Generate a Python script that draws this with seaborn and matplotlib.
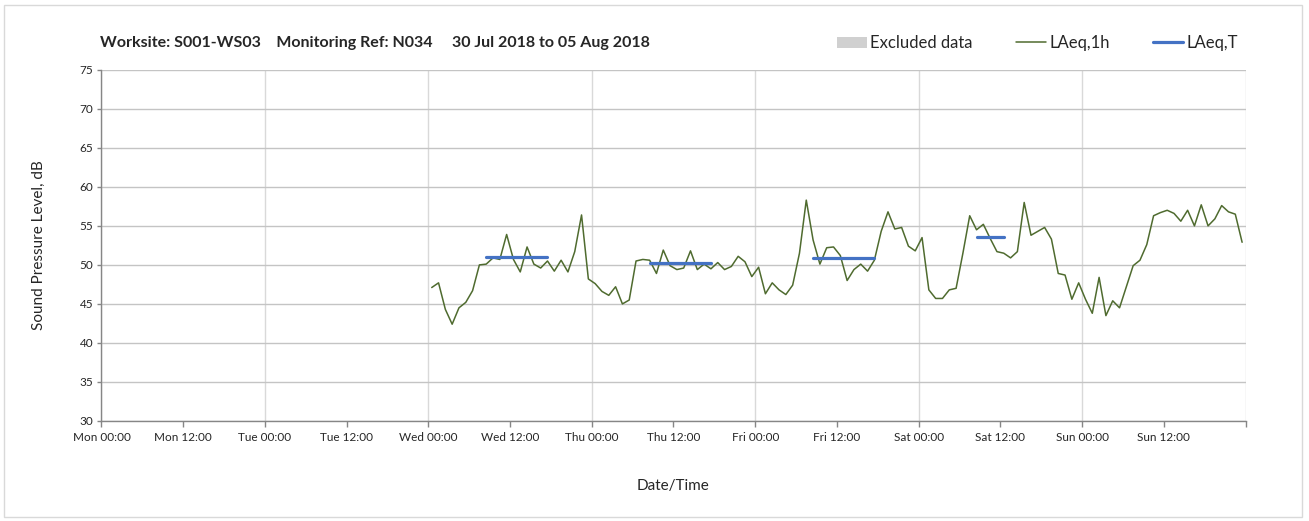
import pandas as pd
import matplotlib
matplotlib.use("Agg")
import matplotlib.pyplot as plt
import matplotlib.dates as mdates
from matplotlib.patches import Patch, Rectangle
from matplotlib.lines import Line2D
import seaborn as sns

# hourly LAeq,1h values, first hour centred on Wed 01 Aug 2018 00:30
first_hour = "2018-08-01 00:30"
laeq_1h = [
    47.1, 47.7, 44.3, 42.4, 44.5, 45.2, 46.7, 50.0, 50.1, 50.9,
    50.7, 53.9, 50.7, 49.1, 52.3, 50.1, 49.6, 50.5, 49.2, 50.6,
    49.1, 51.7, 56.4, 48.2, 47.6, 46.6, 46.1, 47.2, 45.0, 45.5,
    50.5, 50.7, 50.6, 48.9, 51.9, 49.9, 49.4, 49.6, 51.8, 49.4,
    50.1, 49.5, 50.3, 49.4, 49.8, 51.1, 50.4, 48.5, 49.7, 46.3,
    47.7, 46.8, 46.2, 47.4, 51.5, 58.3, 53.2, 50.1, 52.2, 52.3,
    51.2, 48.0, 49.4, 50.1, 49.2, 50.6, 54.3, 56.8, 54.6, 54.8,
    52.4, 51.8, 53.5, 46.8, 45.7, 45.7, 46.8, 47.0, 51.5, 56.3,
    54.5, 55.2, 53.4, 51.7, 51.5, 50.9, 51.7, 58.0, 53.8, 54.3,
    54.8, 53.3, 48.9, 48.7, 45.6, 47.7, 45.6, 43.8, 48.4, 43.5,
    45.4, 44.5, 47.2, 49.9, 50.6, 52.6, 56.3, 56.7, 57.0, 56.6,
    55.6, 57.0, 55.0, 57.7, 55.0, 55.9, 57.6, 56.8, 56.5, 52.9,
]

# LAeq,T for each working period (first and last hour centres)
period_start = ["2018-08-01 08:30", "2018-08-02 08:30", "2018-08-03 08:30", "2018-08-04 08:30"]
period_end = ["2018-08-01 17:30", "2018-08-02 17:30", "2018-08-03 17:30", "2018-08-04 12:30"]
laeq_t = [51.0, 50.3, 50.9, 53.6]

title_text = "Worksite: S001-WS03    Monitoring Ref: N034     30 Jul 2018 to 05 Aug 2018"
week_start = pd.Timestamp("2018-07-30 00:00")
week_end = pd.Timestamp("2018-08-06 00:00")

hourly = pd.DataFrame({
    "time": pd.date_range(first_hour, periods=len(laeq_1h), freq="h"),
    "level": laeq_1h,
})

rows = []
for i in range(len(laeq_t)):
    rows.append({"period": i, "time": pd.Timestamp(period_start[i]), "level": laeq_t[i]})
    rows.append({"period": i, "time": pd.Timestamp(period_end[i]), "level": laeq_t[i]})
periods = pd.DataFrame(rows)

sns.set_theme(style="white")
plt.rcParams["font.family"] = ["Lato", "DejaVu Sans"]

green = "#4f6b2f"
blue = "#4472c4"

fig = plt.figure(figsize=(13.09, 5.21), dpi=100)
ax = fig.add_axes([0.0775, 0.192, 0.874, 0.674])

sns.lineplot(data=hourly, x="time", y="level", color=green, linewidth=1.1, ax=ax, legend=False)
sns.lineplot(data=periods, x="time", y="level", units="period", estimator=None,
             color=blue, linewidth=2.3, ax=ax, legend=False)

ax.set_xlim(week_start, week_end)
ax.set_ylim(30, 75)
ax.set_yticks(range(30, 80, 5))

end_num = mdates.date2num(week_end)


def tick_label(x, pos):
    # last tick (end of week) is left unlabelled
    if abs(x - end_num) < 1e-6:
        return ""
    return mdates.num2date(x).strftime("%a %H:%M")


ax.xaxis.set_major_locator(mdates.HourLocator(byhour=[0, 12]))
ax.xaxis.set_major_formatter(plt.FuncFormatter(tick_label))
ax.xaxis.set_minor_locator(mdates.DayLocator())
ax.xaxis.remove_overlapping_locs = False

ax.grid(True, axis="y", color="#c4c4c4", linewidth=1.0)
ax.grid(True, axis="x", which="minor", color="#d9d9d9", linewidth=1.0)
ax.grid(False, axis="x", which="major")

ax.tick_params(axis="x", which="major", direction="out", length=4, width=1, color="#868686",
               labelsize=8.5, pad=4, bottom=True)
ax.tick_params(axis="x", which="minor", length=0)
ax.tick_params(axis="y", direction="out", length=3, width=1, color="#868686",
               labelsize=8.5, pad=3, left=True)

for s in ["top", "right"]:
    ax.spines[s].set_visible(False)
for s in ["left", "bottom"]:
    ax.spines[s].set_color("#868686")
    ax.spines[s].set_linewidth(1.0)

ax.set_xlabel("Date/Time", fontsize=11, labelpad=26)
ax.set_ylabel("Sound Pressure Level, dB", fontsize=11, labelpad=24)

fig.text(0.0764, 0.918, title_text, fontsize=11.5, fontweight="bold", ha="left", va="center")

handles = [
    Patch(facecolor="#d0d0d0", edgecolor="none", label="Excluded data"),
    Line2D([], [], color=green, linewidth=1.1, label="LAeq,1h"),
    Line2D([], [], color=blue, linewidth=2.3, label="LAeq,T"),
]
fig.legend(handles=handles, loc="center left", bbox_to_anchor=(0.628, 0.917), ncol=3,
           frameon=False, fontsize=12, handlelength=1.8, handletextpad=0.2, columnspacing=2.6)

fig.patches.append(Rectangle((0.003, 0.008), 0.992, 0.982, transform=fig.transFigure,
                             fill=False, edgecolor="#d9d9d9", linewidth=1.0))

fig.savefig("out.png", dpi=100)
